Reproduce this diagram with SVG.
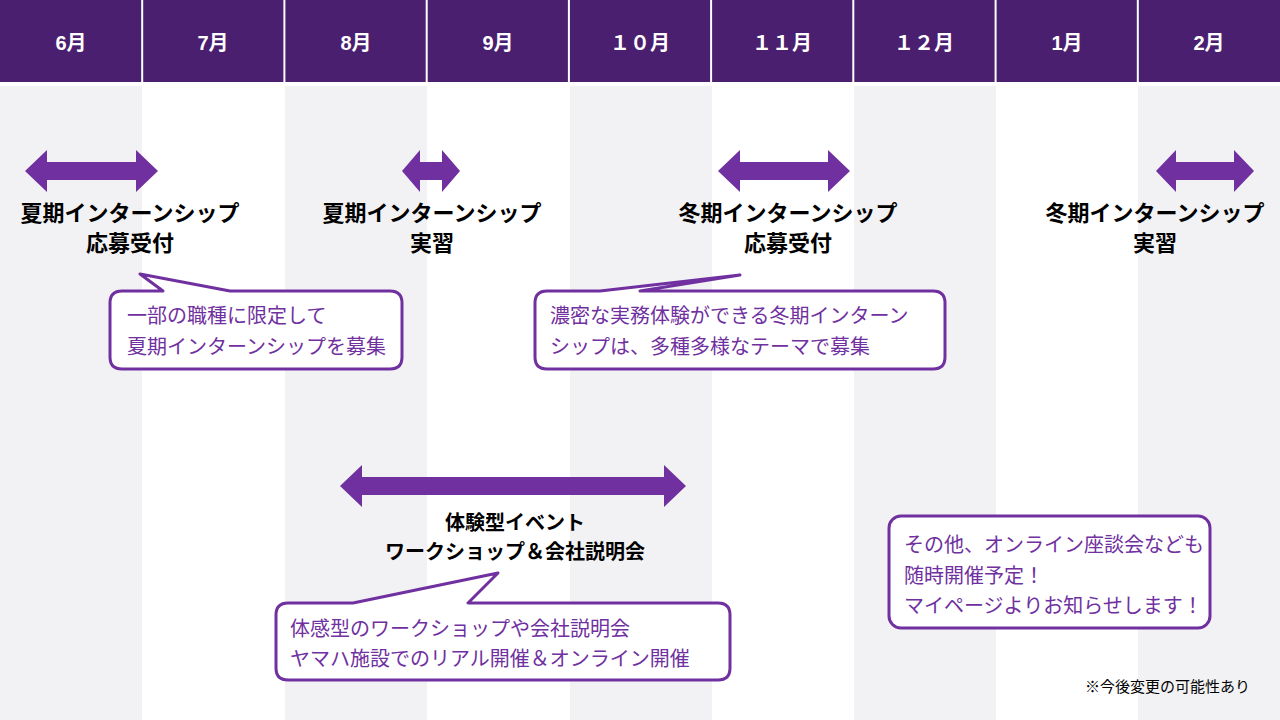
<svg xmlns="http://www.w3.org/2000/svg" width="1280" height="720" viewBox="0 0 1280 720">
<defs><style>
.g{fill:#F2F2F5}.h{fill:#4A1F70}
.m{font-family:"Liberation Sans","Noto Sans CJK JP",sans-serif;font-size:20px;font-weight:bold;fill:#fff;text-anchor:middle}
.l{font-family:"Liberation Sans","Noto Sans CJK JP",sans-serif;font-size:22px;font-weight:bold;fill:#000;text-anchor:middle}
.c{font-family:"Liberation Sans","Noto Sans CJK JP",sans-serif;font-size:20px;fill:#7030A0}
.a{fill:#7030A0}.b{fill:#fff;stroke:#7030A0;stroke-width:3;stroke-linejoin:round}
.n{font-family:"Liberation Sans","Noto Sans CJK JP",sans-serif;font-size:15px;fill:#000}
</style></defs>
<rect width="1280" height="720" fill="#fff"/>
<g id="stripes">
<rect class="g" x="0" y="86" width="142" height="634"/>
<rect class="g" x="285" y="86" width="142" height="634"/>
<rect class="g" x="570" y="86" width="142" height="634"/>
<rect class="g" x="854" y="86" width="142" height="634"/>
<rect class="g" x="1138" y="86" width="142" height="634"/>
</g>
<g id="header">
<rect class="h" x="0" y="0" width="1280" height="82"/>
<g stroke="#fff" stroke-width="2"><line x1="142.2" y1="0" x2="142.2" y2="82"/><line x1="284.4" y1="0" x2="284.4" y2="82"/><line x1="426.7" y1="0" x2="426.7" y2="82"/><line x1="568.9" y1="0" x2="568.9" y2="82"/><line x1="711.1" y1="0" x2="711.1" y2="82"/><line x1="853.3" y1="0" x2="853.3" y2="82"/><line x1="995.6" y1="0" x2="995.6" y2="82"/><line x1="1137.8" y1="0" x2="1137.8" y2="82"/></g>
<text class="m" x="71" y="50">6月</text><text class="m" x="213" y="50">7月</text><text class="m" x="356" y="50">8月</text><text class="m" x="498" y="50">9月</text><text class="m" x="640" y="50">１０月</text><text class="m" x="782" y="50">１１月</text><text class="m" x="924" y="50">１２月</text><text class="m" x="1067" y="50">1月</text><text class="m" x="1209" y="50">2月</text>
</g>
<g id="connectors">
<polygon class="a" points="25,171 47,150 47,162 136,162 136,150 158,171 136,192 136,180 47,180 47,192"/>
<polygon class="a" points="402,171 420,150 420,162 442,162 442,150 460,171 442,192 442,180 420,180 420,192"/>
<polygon class="a" points="718,171 740,150 740,162 828,162 828,150 850,171 828,192 828,180 740,180 740,192"/>
<polygon class="a" points="1156,171 1176,150 1176,162 1234,162 1234,150 1254,171 1234,192 1234,180 1176,180 1176,192"/>
<polygon class="a" points="340,486 362,465 362,477 664,477 664,465 686,486 664,507 664,495 362,495 362,507"/>
</g>
<g id="labels">
<text class="l" x="130" y="221">夏期インターンシップ</text><text class="l" x="130" y="251">応募受付</text>
<text class="l" x="432" y="221">夏期インターンシップ</text><text class="l" x="432" y="251">実習</text>
<text class="l" x="788" y="221">冬期インターンシップ</text><text class="l" x="788" y="251">応募受付</text>
<text class="l" x="1155" y="221">冬期インターンシップ</text><text class="l" x="1155" y="251">実習</text>
<text class="l" x="515" y="530" style="font-size:20px">体験型イベント</text><text class="l" x="515" y="559" style="font-size:20px">ワークショップ＆会社説明会</text>
</g>
<g id="callout1">
<path class="b" d="M122,291 H163 L140,274 L230,291 H390 Q402,291 402,303 V357 Q402,369 390,369 H122 Q110,369 110,357 V303 Q110,291 122,291 Z"/>
<text class="c" x="127" y="323">一部の職種に限定して</text><text class="c" x="127" y="354">夏期インターンシップを募集</text>
</g>
<g id="callout2">
<path class="b" d="M547,291 H600 L740,275 L640,291 H933 Q945,291 945,303 V357 Q945,369 933,369 H547 Q535,369 535,357 V303 Q535,291 547,291 Z"/>
<text class="c" x="550" y="323">濃密な実務体験ができる冬期インターン</text><text class="c" x="550" y="354">シップは、多種多様なテーマで募集</text>
</g>
<g id="callout3">
<path class="b" d="M288,603 H353 L498,573 L468,603 H718 Q730,603 730,615 V668 Q730,680 718,680 H288 Q276,680 276,668 V615 Q276,603 288,603 Z"/>
<text class="c" x="290" y="636">体感型のワークショップや会社説明会</text><text class="c" x="290" y="666">ヤマハ施設でのリアル開催＆オンライン開催</text>
</g>
<g id="callout4">
<rect class="b" x="889" y="516" width="321" height="112" rx="12"/>
<text class="c" x="904" y="552">その他、オンライン座談会なども</text><text class="c" x="904" y="583">随時開催予定！</text><text class="c" x="904" y="613">マイページよりお知らせします！</text>
</g>
<text class="n" x="1250" y="692" text-anchor="end">※今後変更の可能性あり</text>
</svg>
